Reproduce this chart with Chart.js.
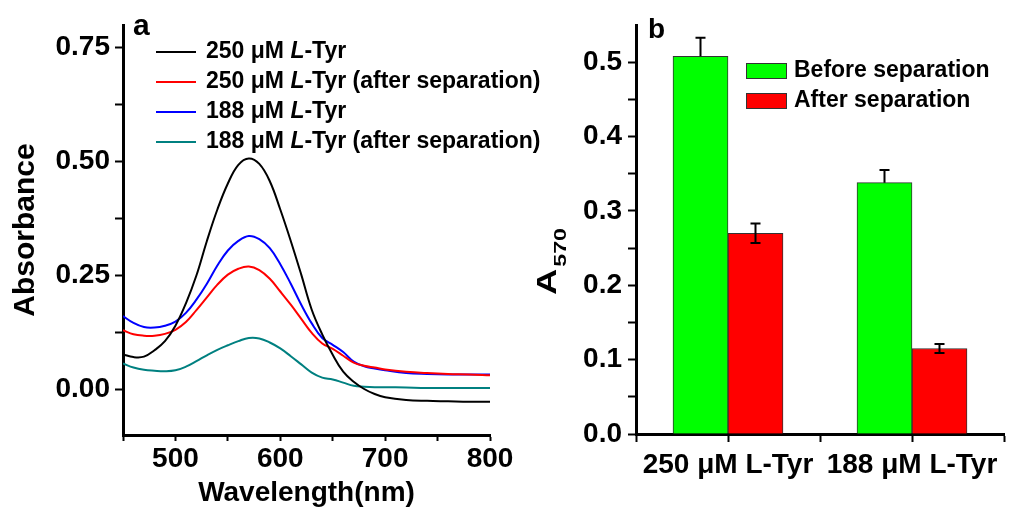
<!DOCTYPE html>
<html>
<head>
<meta charset="utf-8">
<script src="https://cdn.jsdelivr.net/npm/chart.js@4.4.1/dist/chart.umd.min.js"></script>
<style>
  html, body { margin: 0; padding: 0; background: #fff; }
  #wrap { position: relative; width: 1024px; height: 512px; overflow: hidden; }
  #chartA { position: absolute; left: 0; top: 0; }
  #chartB { position: absolute; left: 520px; top: 0; }
</style>
</head>
<body>
<div id="wrap">
  <canvas id="chartA" width="560" height="512"></canvas>
  <canvas id="chartB" width="504" height="512"></canvas>
</div>
<script>
// ---- panel a: absorption spectra ----
const wavelengths = [450, 460, 470, 480, 490, 500, 510, 520, 530, 540, 550, 560, 570, 580, 590,
  600, 610, 620, 630, 640, 650, 660, 670, 680, 690, 700, 720, 740, 760, 780, 800];
const tyr250 = [0.077, 0.071, 0.072, 0.086, 0.106, 0.140, 0.189, 0.250, 0.326, 0.395, 0.452, 0.493, 0.507, 0.495, 0.457,
  0.395, 0.326, 0.252, 0.175, 0.121, 0.076, 0.039, 0.017, 0.001, -0.010, -0.017, -0.023, -0.025, -0.026, -0.027, -0.027];
const tyr250After = [0.130, 0.121, 0.118, 0.118, 0.122, 0.131, 0.148, 0.174, 0.202, 0.230, 0.252, 0.265, 0.270, 0.262, 0.243,
  0.215, 0.186, 0.155, 0.124, 0.101, 0.089, 0.074, 0.059, 0.052, 0.048, 0.044, 0.039, 0.036, 0.034, 0.033, 0.031];
const tyr188 = [0.161, 0.146, 0.137, 0.136, 0.140, 0.149, 0.168, 0.197, 0.232, 0.272, 0.305, 0.326, 0.337, 0.330, 0.310,
  0.275, 0.232, 0.186, 0.145, 0.113, 0.098, 0.082, 0.061, 0.051, 0.046, 0.042, 0.036, 0.034, 0.033, 0.033, 0.033];
const tyr188After = [0.057, 0.048, 0.043, 0.041, 0.040, 0.042, 0.050, 0.062, 0.075, 0.087, 0.097, 0.106, 0.113, 0.112, 0.103,
  0.090, 0.073, 0.055, 0.037, 0.026, 0.022, 0.015, 0.008, 0.006, 0.005, 0.005, 0.004, 0.003, 0.003, 0.003, 0.003];
const seriesNames = ['250 μM L-Tyr', '250 μM L-Tyr (after separation)', '188 μM L-Tyr', '188 μM L-Tyr (after separation)'];
const xTicksA = [450, 500, 550, 600, 650, 700, 750, 800];
const yTicksA = [0, 0.125, 0.25, 0.375, 0.5, 0.625, 0.75];

// ---- panel b: A570 bars ----
const groups = ['250 μM L-Tyr', '188 μM L-Tyr'];
const beforeSep = [0.508, 0.338];
const beforeErr = [0.025, 0.017];
const afterSep = [0.270, 0.115];
const afterErr = [0.013, 0.006];
const xTicksB = [-0.5, 0, 0.5, 1, 1.5];
const yTicksB = [0, 0.05, 0.1, 0.15, 0.2, 0.25, 0.3, 0.35, 0.4, 0.45, 0.5];

Chart.defaults.font.family = '"Liberation Sans", Arial, sans-serif';
Chart.defaults.color = '#000';

const FONT = '"Liberation Sans", Arial, sans-serif';

// legend for panel a, with the L in italics
const spectraLegend = {
  id: 'spectraLegend',
  afterDraw(chart) {
    const ctx = chart.ctx;
    ctx.save();
    ctx.font = 'bold 30px ' + FONT;
    ctx.textBaseline = 'alphabetic';
    ctx.fillStyle = '#000';
    ctx.fillText('a', 133, 35);
    ctx.textBaseline = 'middle';
    chart.data.datasets.forEach((ds, i) => {
      const y = 52 + i * 30;
      ctx.strokeStyle = ds.borderColor;
      ctx.lineWidth = 2;
      ctx.beginPath();
      ctx.moveTo(156, y);
      ctx.lineTo(196, y);
      ctx.stroke();
      const parts = ds.label.split('L-');
      let x = 206;
      ctx.fillStyle = '#000';
      ctx.font = 'bold 23px ' + FONT;
      ctx.fillText(parts[0], x, y);
      x += ctx.measureText(parts[0]).width;
      ctx.font = 'italic bold 23px ' + FONT;
      ctx.fillText('L', x, y);
      x += ctx.measureText('L').width;
      ctx.font = 'bold 23px ' + FONT;
      ctx.fillText('-' + parts[1], x, y);
    });
    ctx.restore();
  }
};

const colorsA = ['#000000', '#ff0000', '#0000ff', '#008080'];
const seriesA = [tyr250, tyr250After, tyr188, tyr188After];

new Chart(document.getElementById('chartA'), {
  type: 'line',
  data: {
    datasets: seriesA.map((s, i) => ({
      label: seriesNames[i],
      data: s.map((v, j) => ({ x: wavelengths[j], y: v })),
      borderColor: colorsA[i],
      borderWidth: 2,
      pointRadius: 0,
      tension: 0.4,
      fill: false
    }))
  },
  options: {
    responsive: false,
    animation: false,
    layout: { padding: { left: 0, top: 25, right: 70, bottom: 0 }, autoPadding: false },
    plugins: { legend: { display: false }, tooltip: { enabled: false } },
    scales: {
      x: {
        type: 'linear', min: 450, max: 800,
        afterBuildTicks: s => { s.ticks = xTicksA.map(v => ({ value: v })); },
        afterFit: s => { s.height = 77; },
        ticks: {
          callback: v => (v % 100 === 0 ? String(v) : ''),
          font: { size: 28, weight: 'bold' }, color: '#000',
          padding: 1, maxRotation: 0, autoSkip: false
        },
        grid: { drawOnChartArea: false, tickLength: 6, tickWidth: 2, color: '#000' },
        border: { color: '#000', width: 3 },
        title: { display: true, text: 'Wavelength(nm)', font: { size: 28, weight: 'bold' }, color: '#000', padding: { top: 0, bottom: 2 } }
      },
      y: {
        min: -0.1, max: 0.8,
        afterBuildTicks: s => { s.ticks = yTicksA.map(v => ({ value: v })); },
        afterFit: s => { s.width = 123; },
        ticks: {
          callback: v => (Math.round(v * 1000) % 250 === 0 ? v.toFixed(2) : ''),
          font: { size: 28, weight: 'bold' }, color: '#000', padding: 5, autoSkip: false
        },
        grid: { drawOnChartArea: false, tickLength: 8, tickWidth: 2, color: '#000' },
        border: { color: '#000', width: 3 },
        title: { display: true, text: 'Absorbance', font: { size: 30, weight: 'bold' }, color: '#000', padding: { top: 8, bottom: 0 } }
      }
    }
  },
  plugins: [spectraLegend]
});

// error bars, legend and labels for panel b
const errorBars = {
  id: 'errorBars',
  afterDatasetDraw(chart, args) {
    const ds = chart.data.datasets[args.index];
    if (!ds.errors) return;
    const yScale = chart.scales.y;
    const ctx = chart.ctx;
    ctx.save();
    ctx.strokeStyle = '#000';
    ctx.lineWidth = 2;
    args.meta.data.forEach((bar, i) => {
      const v = ds.data[i], e = ds.errors[i];
      const top = yScale.getPixelForValue(v + e);
      const bot = ds.errMode === 'up' ? yScale.getPixelForValue(v) : yScale.getPixelForValue(v - e);
      ctx.beginPath();
      ctx.moveTo(bar.x, top);
      ctx.lineTo(bar.x, bot);
      ctx.moveTo(bar.x - 5, top);
      ctx.lineTo(bar.x + 5, top);
      if (ds.errMode !== 'up') {
        ctx.moveTo(bar.x - 5, bot);
        ctx.lineTo(bar.x + 5, bot);
      }
      ctx.stroke();
    });
    ctx.restore();
  },
  afterDraw(chart) {
    const ctx = chart.ctx;
    ctx.save();
    ctx.fillStyle = '#000';
    ctx.font = 'bold 28px ' + FONT;
    ctx.textBaseline = 'alphabetic';
    ctx.fillText('b', 128, 38);

    // legend
    ctx.textBaseline = 'middle';
    chart.data.datasets.forEach((ds, i) => {
      const y = 71 + i * 30;
      ctx.fillStyle = ds.backgroundColor;
      ctx.fillRect(226, y - 8, 41, 16);
      ctx.strokeStyle = '#333';
      ctx.lineWidth = 1;
      ctx.strokeRect(226.5, y - 7.5, 40, 15);
      ctx.fillStyle = '#000';
      ctx.font = 'bold 23px ' + FONT;
      ctx.fillText(ds.label, 274, y);
    });

    // y title A570 with subscript
    ctx.translate(36, 295);
    ctx.rotate(-Math.PI / 2);
    ctx.textBaseline = 'alphabetic';
    ctx.save();
    ctx.scale(1.3, 1);
    ctx.font = 'bold 28px ' + FONT;
    ctx.fillText('A', 0, 0);
    const aw = ctx.measureText('A').width * 1.3;
    ctx.restore();
    ctx.save();
    ctx.translate(aw + 2, 10);
    ctx.scale(1.45, 1);
    ctx.font = 'bold 16px ' + FONT;
    ctx.fillText('570', 0, 0);
    ctx.restore();
    ctx.restore();
  }
};

new Chart(document.getElementById('chartB'), {
  type: 'bar',
  data: {
    labels: groups,
    datasets: [
      { label: 'Before separation', data: beforeSep, errors: beforeErr, errMode: 'up',
        backgroundColor: '#00ff00', borderColor: '#333333', borderWidth: 1 },
      { label: 'After separation', data: afterSep, errors: afterErr, errMode: 'both',
        backgroundColor: '#ff0000', borderColor: '#333333', borderWidth: 1 }
    ]
  },
  options: {
    responsive: false,
    animation: false,
    barThickness: 55,
    layout: { padding: { left: 0, top: 25, right: 20, bottom: 0 }, autoPadding: false },
    plugins: { legend: { display: false }, tooltip: { enabled: false } },
    scales: {
      x: {
        type: 'category', offset: true,
        afterBuildTicks: s => { s.ticks = xTicksB.map(v => ({ value: v })); },
        afterFit: s => { s.height = 78; },
        ticks: {
          callback: v => (Number.isInteger(v) ? groups[v] : ''),
          font: { size: 28, weight: 'bold' }, color: '#000',
          padding: 6, maxRotation: 0, autoSkip: false
        },
        grid: { offset: false, drawOnChartArea: false, tickLength: 8, tickWidth: 2, color: '#000' },
        border: { color: '#000', width: 3 }
      },
      y: {
        min: 0, max: 0.55,
        afterBuildTicks: s => { s.ticks = yTicksB.map(v => ({ value: v })); },
        afterFit: s => { s.width = 116; },
        ticks: {
          callback: v => (Math.round(v * 100) % 10 === 0 ? v.toFixed(1) : ''),
          font: { size: 28, weight: 'bold' }, color: '#000', padding: 6, autoSkip: false
        },
        grid: { drawOnChartArea: false, tickLength: 8, tickWidth: 2, color: '#000' },
        border: { color: '#000', width: 3 }
      }
    }
  },
  plugins: [errorBars]
});
</script>
</body>
</html>
